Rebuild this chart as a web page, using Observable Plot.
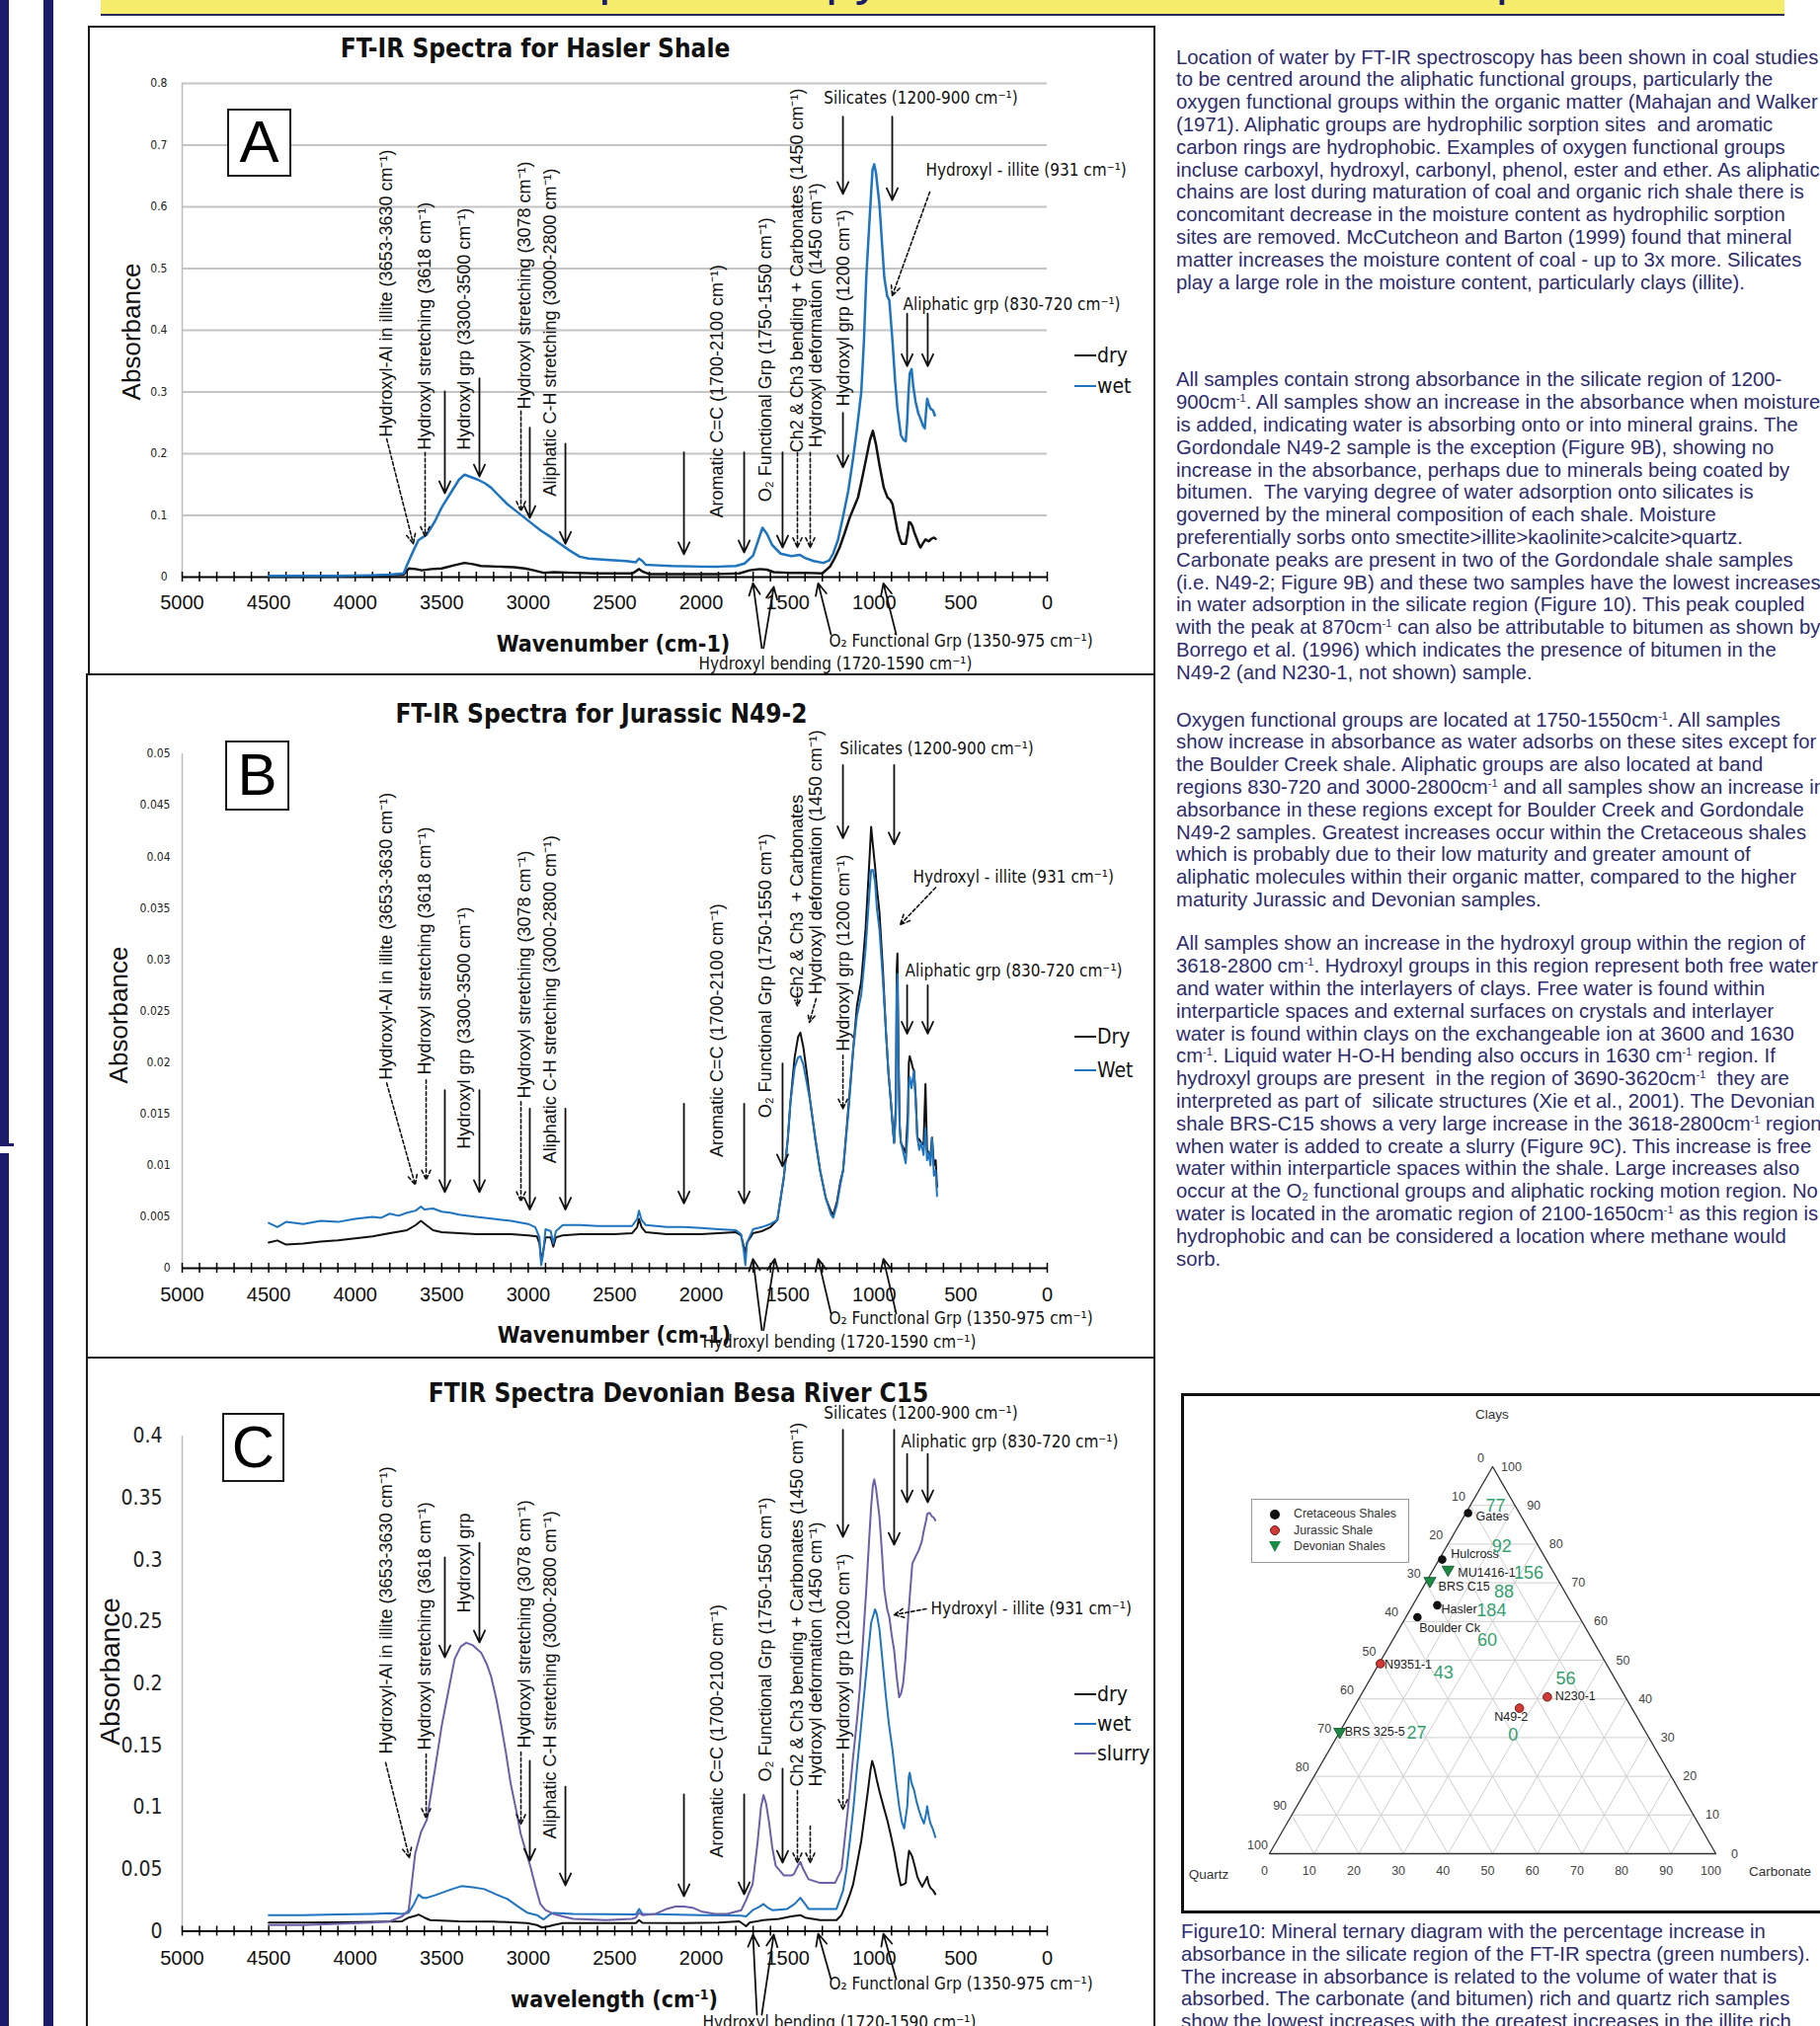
<!DOCTYPE html>
<html><head><meta charset="utf-8">
<script src="https://cdn.jsdelivr.net/npm/d3@7"></script>
<script src="https://cdn.jsdelivr.net/npm/@observablehq/plot@0.6"></script>
<style>
html,body{margin:0;padding:0;}
body{width:1843px;height:2052px;position:relative;overflow:hidden;background:#fff;font-family:"Liberation Sans",Arial,sans-serif;}
.abs{position:absolute;}
.ctr{position:absolute;white-space:nowrap;transform:translate(-50%,-50%);}
.para{position:absolute;left:1191px;white-space:pre;font-size:20.3px;line-height:22.8px;color:#2d2c6c;}
.para sup{font-size:11px;vertical-align:7px;line-height:0;}
.para sub{font-size:11px;vertical-align:-3px;line-height:0;}
.box{position:absolute;border:2.5px solid #1a1a1a;box-sizing:border-box;}
</style></head><body>
<script>
// ---------------- DATA ----------------
const haslerDry = [[4500,0.001],[4200,0.001],[3900,0.002],[3720,0.004],[3690,0.014],[3650,0.013],[3615,0.011],[3560,0.013],[3500,0.014],[3430,0.019],[3368,0.023],[3320,0.021],[3273,0.018],[3180,0.017],[3082,0.016],[3020,0.014],[2968,0.011],[2911,0.007],[2850,0.008],[2740,0.007],[2600,0.006],[2397,0.006],[2370,0.011],[2359,0.013],[2340,0.009],[2302,0.005],[2100,0.005],[1900,0.005],[1780,0.006],[1720,0.011],[1660,0.013],[1620,0.012],[1580,0.008],[1500,0.007],[1400,0.007],[1300,0.006],[1256,0.017],[1230,0.03],[1200,0.048],[1170,0.072],[1141,0.097],[1094,0.129],[1070,0.16],[1046,0.193],[1025,0.222],[1008,0.237],[990,0.215],[970,0.182],[945,0.145],[923,0.129],[907,0.125],[894,0.118],[880,0.097],[866,0.076],[850,0.06],[841,0.054],[818,0.054],[808,0.07],[799,0.089],[790,0.088],[780,0.083],[768,0.072],[757,0.064],[745,0.055],[733,0.048],[718,0.055],[704,0.061],[685,0.058],[670,0.062],[656,0.064],[645,0.062]];
const haslerWet = [[4500,0.002],[4300,0.002],[4100,0.002],[3900,0.003],[3800,0.004],[3720,0.006],[3700,0.02],[3660,0.045],[3634,0.06],[3586,0.069],[3540,0.09],[3500,0.113],[3440,0.14],[3400,0.158],[3368,0.166],[3330,0.162],[3292,0.158],[3250,0.152],[3215,0.145],[3170,0.132],[3120,0.118],[3070,0.107],[3025,0.097],[2980,0.087],[2930,0.076],[2870,0.065],[2816,0.054],[2760,0.043],[2702,0.033],[2650,0.03],[2550,0.028],[2435,0.026],[2378,0.024],[2360,0.030],[2340,0.026],[2321,0.02],[2250,0.019],[2169,0.018],[2000,0.017],[1900,0.017],[1800,0.018],[1750,0.022],[1700,0.035],[1670,0.06],[1646,0.080],[1620,0.07],[1590,0.052],[1541,0.038],[1480,0.034],[1430,0.036],[1400,0.031],[1350,0.026],[1294,0.023],[1260,0.027],[1238,0.038],[1210,0.06],[1181,0.097],[1150,0.14],[1122,0.193],[1100,0.24],[1075,0.30],[1060,0.38],[1046,0.486],[1025,0.59],[1010,0.66],[1000,0.669],[990,0.655],[970,0.604],[955,0.54],[942,0.486],[925,0.455],[913,0.449],[905,0.42],[894,0.38],[880,0.32],[866,0.273],[846,0.23],[830,0.222],[818,0.22],[810,0.25],[803,0.294],[795,0.33],[784,0.337],[775,0.31],[761,0.284],[745,0.265],[733,0.257],[718,0.245],[708,0.241],[700,0.27],[694,0.289],[685,0.28],[675,0.273],[660,0.27],[650,0.262]];

const n49Dry = [[4500,0.0025],[4450,0.0027],[4400,0.0023],[4300,0.0024],[4200,0.0026],[4100,0.0027],[4000,0.0029],[3900,0.0031],[3800,0.0034],[3700,0.0037],[3650,0.0042],[3620,0.0046],[3590,0.0042],[3550,0.0037],[3500,0.0035],[3400,0.0034],[3300,0.0033],[3200,0.0033],[3100,0.0033],[3000,0.0032],[2950,0.0031],[2935,0.0024],[2925,0.0008],[2915,0.0015],[2900,0.0030],[2870,0.0030],[2855,0.0021],[2840,0.0030],[2800,0.0032],[2700,0.0033],[2600,0.0033],[2500,0.0033],[2400,0.0034],[2370,0.0040],[2360,0.0048],[2345,0.0040],[2320,0.0035],[2200,0.0033],[2100,0.0033],[2000,0.0033],[1900,0.0034],[1800,0.0035],[1770,0.0032],[1755,0.0022],[1745,0.0015],[1735,0.0025],[1700,0.0034],[1650,0.0036],[1600,0.0040],[1560,0.0047],[1522,0.0089],[1500,0.0125],[1484,0.0162],[1460,0.0205],[1440,0.0225],[1427,0.0229],[1410,0.0215],[1390,0.0190],[1370,0.0162],[1340,0.0125],[1313,0.0095],[1280,0.0068],[1250,0.0055],[1237,0.0052],[1215,0.0065],[1195,0.0085],[1180,0.0095],[1150,0.0155],[1122,0.0212],[1100,0.0255],[1075,0.0279],[1050,0.033],[1030,0.039],[1018,0.0429],[1007,0.041],[995,0.039],[985,0.037],[970,0.0346],[950,0.029],[932,0.0229],[918,0.019],[904,0.0162],[892,0.0135],[885,0.0122],[875,0.0160],[870,0.0290],[866,0.0306],[860,0.0210],[853,0.0140],[846,0.0122],[835,0.0118],[818,0.0112],[806,0.0150],[800,0.0200],[795,0.0206],[785,0.0200],[778,0.0195],[770,0.0192],[760,0.0165],[751,0.0127],[740,0.0125],[729,0.0122],[715,0.0120],[704,0.0179],[695,0.0115],[685,0.0112],[675,0.0110],[666,0.0127],[655,0.0100],[645,0.0105],[637,0.0079]];
const n49Wet = [[4500,0.0044],[4450,0.0040],[4400,0.0045],[4300,0.0043],[4200,0.0046],[4100,0.0045],[4000,0.0048],[3900,0.0050],[3850,0.0049],[3800,0.0053],[3750,0.0051],[3700,0.0054],[3650,0.0056],[3620,0.0060],[3600,0.0057],[3550,0.0058],[3500,0.0055],[3450,0.0054],[3400,0.0052],[3300,0.0050],[3200,0.0048],[3100,0.0046],[3000,0.0043],[2960,0.0040],[2935,0.0030],[2925,0.0003],[2915,0.0012],[2900,0.0038],[2870,0.0036],[2855,0.0024],[2840,0.0036],[2800,0.0042],[2700,0.0042],[2600,0.0041],[2500,0.0041],[2400,0.0041],[2370,0.0048],[2360,0.0056],[2345,0.0047],[2320,0.0042],[2200,0.0040],[2100,0.0040],[2000,0.0039],[1900,0.0038],[1800,0.0037],[1770,0.0033],[1755,0.0018],[1745,0.0003],[1735,0.0025],[1700,0.0038],[1650,0.0040],[1600,0.0043],[1560,0.0047],[1522,0.0089],[1500,0.0125],[1484,0.0162],[1460,0.0195],[1440,0.0205],[1427,0.0206],[1410,0.0198],[1390,0.0180],[1370,0.0162],[1340,0.0125],[1313,0.0095],[1280,0.0068],[1250,0.0052],[1237,0.0049],[1215,0.0062],[1195,0.0082],[1180,0.0095],[1150,0.0150],[1122,0.0212],[1100,0.0245],[1075,0.0266],[1050,0.031],[1030,0.036],[1018,0.0387],[1007,0.0387],[995,0.0375],[985,0.035],[970,0.0329],[950,0.028],[932,0.0229],[918,0.019],[904,0.0162],[892,0.0135],[885,0.0122],[875,0.0150],[870,0.0270],[866,0.0286],[860,0.0200],[853,0.0135],[846,0.0122],[835,0.0115],[818,0.0102],[806,0.0135],[800,0.0180],[795,0.0186],[785,0.0175],[778,0.0183],[770,0.0192],[760,0.0160],[751,0.0127],[740,0.0115],[729,0.0122],[715,0.0110],[704,0.0136],[695,0.0105],[685,0.0112],[675,0.0100],[666,0.0127],[655,0.0090],[645,0.0095],[637,0.0070]];

const c15Dry = [[4500,0.007],[4300,0.007],[4100,0.0072],[3900,0.0075],[3729,0.008],[3691,0.011],[3650,0.0125],[3634,0.0135],[3600,0.011],[3567,0.009],[3400,0.008],[3200,0.0078],[3006,0.0065],[2950,0.005],[2920,0.003],[2880,0.004],[2854,0.005],[2800,0.0065],[2550,0.0065],[2378,0.0065],[2359,0.009],[2340,0.0068],[2100,0.0065],[1900,0.007],[1780,0.008],[1760,0.006],[1741,0.004],[1720,0.007],[1640,0.009],[1550,0.01],[1480,0.012],[1427,0.013],[1400,0.011],[1313,0.009],[1218,0.009],[1190,0.013],[1161,0.022],[1140,0.03],[1122,0.038],[1100,0.054],[1075,0.073],[1055,0.094],[1037,0.113],[1022,0.13],[1012,0.1375],[1000,0.132],[985,0.122],[970,0.113],[945,0.1],[923,0.089],[905,0.078],[885,0.065],[866,0.05],[847,0.037],[830,0.038],[818,0.039],[808,0.055],[799,0.065],[790,0.063],[780,0.060],[765,0.052],[751,0.044],[738,0.04],[723,0.036],[708,0.04],[694,0.044],[685,0.038],[675,0.035],[660,0.033],[647,0.030]];
const c15Wet = [[4500,0.013],[4300,0.013],[4100,0.0135],[3900,0.014],[3800,0.0145],[3729,0.014],[3691,0.015],[3660,0.022],[3634,0.0296],[3610,0.027],[3586,0.027],[3540,0.029],[3500,0.031],[3440,0.034],[3386,0.0364],[3320,0.0355],[3253,0.034],[3190,0.030],[3120,0.026],[3060,0.020],[3006,0.015],[2950,0.013],[2911,0.0095],[2880,0.013],[2854,0.0148],[2740,0.014],[2550,0.0138],[2378,0.0136],[2359,0.018],[2340,0.014],[2200,0.0135],[2000,0.013],[1850,0.0128],[1769,0.0125],[1741,0.012],[1703,0.017],[1660,0.020],[1640,0.022],[1615,0.019],[1589,0.017],[1503,0.018],[1460,0.022],[1427,0.027],[1400,0.022],[1380,0.018],[1300,0.018],[1218,0.018],[1180,0.033],[1160,0.05],[1141,0.073],[1120,0.10],[1103,0.127],[1080,0.16],[1056,0.195],[1035,0.225],[1018,0.249],[995,0.260],[985,0.256],[970,0.244],[950,0.215],[932,0.189],[915,0.167],[894,0.146],[875,0.122],[856,0.101],[840,0.088],[827,0.083],[815,0.095],[809,0.101],[800,0.125],[795,0.128],[785,0.12],[770,0.114],[756,0.105],[742,0.098],[728,0.092],[713,0.087],[700,0.095],[694,0.101],[685,0.093],[675,0.087],[660,0.082],[647,0.076]];
const c15Slurry = [[4500,0.005],[4300,0.005],[4100,0.006],[3900,0.007],[3800,0.008],[3729,0.012],[3691,0.017],[3653,0.063],[3620,0.08],[3586,0.090],[3540,0.13],[3500,0.166],[3460,0.195],[3425,0.220],[3390,0.23],[3358,0.233],[3320,0.231],[3272,0.225],[3240,0.216],[3215,0.206],[3185,0.188],[3158,0.168],[3130,0.145],[3101,0.119],[3070,0.098],[3044,0.079],[3015,0.065],[2987,0.052],[2960,0.037],[2930,0.022],[2900,0.017],[2854,0.014],[2800,0.012],[2740,0.010],[2550,0.009],[2400,0.010],[2378,0.011],[2359,0.015],[2340,0.013],[2264,0.014],[2200,0.018],[2150,0.020],[2100,0.020],[2050,0.019],[2000,0.016],[1922,0.014],[1850,0.014],[1769,0.017],[1741,0.025],[1703,0.038],[1674,0.072],[1655,0.100],[1640,0.110],[1625,0.103],[1608,0.088],[1590,0.068],[1570,0.053],[1522,0.045],[1480,0.045],[1465,0.046],[1440,0.053],[1427,0.056],[1410,0.050],[1380,0.042],[1313,0.039],[1227,0.039],[1189,0.05],[1161,0.087],[1140,0.115],[1122,0.141],[1100,0.17],[1084,0.195],[1065,0.235],[1046,0.276],[1030,0.315],[1018,0.343],[1008,0.36],[1000,0.365],[990,0.358],[970,0.335],[955,0.305],[942,0.276],[925,0.26],[913,0.254],[900,0.24],[885,0.227],[870,0.205],[856,0.189],[845,0.192],[833,0.200],[820,0.22],[809,0.243],[795,0.27],[780,0.297],[760,0.303],[742,0.308],[725,0.315],[713,0.324],[700,0.332],[694,0.337],[680,0.338],[666,0.335],[655,0.334],[647,0.332]];

// axis ticks
const xMajorTicks = [0,500,1000,1500,2000,2500,3000,3500,4000,4500,5000];
const yTicksA = [0,0.1,0.2,0.3,0.4,0.5,0.6,0.7,0.8];
const yTicksB = [0,0.005,0.01,0.015,0.02,0.025,0.03,0.035,0.04,0.045,0.05];
const yTicksC = [0,0.05,0.1,0.15,0.2,0.25,0.3,0.35,0.4];

// band annotations (wavenumber of rotated labels, shared by the three panels)
const bandLabelWave = [3818,3596,3368,3022,2871,1906,1627,1444,1336,1176];
const bandLabelsA = ["Hydroxyl-Al in illite (3653-3630 cm⁻¹)","Hydroxyl stretching (3618 cm⁻¹)","Hydroxyl grp (3300-3500 cm⁻¹)","Hydroxyl stretching (3078 cm⁻¹)","Aliphatic C-H stretching (3000-2800 cm⁻¹)","Aromatic C=C (1700-2100 cm⁻¹)","O₂ Functional Grp (1750-1550 cm⁻¹)","Ch2 & Ch3 bending + Carbonates (1450 cm⁻¹)","Hydroxyl deformation (1450 cm⁻¹)","Hydroxyl grp (1200 cm⁻¹)"];
const bandLabelsB = ["Hydroxyl-Al in illite (3653-3630 cm⁻¹)","Hydroxyl stretching (3618 cm⁻¹)","Hydroxyl grp (3300-3500 cm⁻¹)","Hydroxyl stretching (3078 cm⁻¹)","Aliphatic C-H stretching (3000-2800 cm⁻¹)","Aromatic C=C (1700-2100 cm⁻¹)","O₂ Functional Grp (1750-1550 cm⁻¹)","Ch2 & Ch3  + Carbonates","Hydroxyl deformation (1450 cm⁻¹)","Hydroxyl grp (1200 cm⁻¹)"];
const bandLabelsC = ["Hydroxyl-Al in illite (3653-3630 cm⁻¹)","Hydroxyl stretching (3618 cm⁻¹)","Hydroxyl grp","Hydroxyl stretching (3078 cm⁻¹)","Aliphatic C-H stretching (3000-2800 cm⁻¹)","Aromatic C=C (1700-2100 cm⁻¹)","O₂ Functional Grp (1750-1550 cm⁻¹)","Ch2 & Ch3 bending + Carbonates (1450 cm⁻¹)","Hydroxyl deformation (1450 cm⁻¹)","Hydroxyl grp (1200 cm⁻¹)"];
const bandLabelBaseA = [0.227,0.206,0.206,0.272,0.131,0.096,0.122,0.202,0.210,0.277];
const bandLabelBaseB = [0.0183,0.0188,0.0116,0.0165,0.0102,0.0108,0.0146,0.0262,0.0266,0.0211];
const bandLabelBaseC = [0.1432,0.1464,0.2572,0.148,0.0746,0.0594,0.1208,0.1168,0.1168,0.1464];

// arrows: [from wavenumber, from absorbance, to wavenumber, to absorbance, dashed]
const arrowsA = [[3818,0.224,3664,0.054,1],[3596,0.202,3596,0.066,1],[3482,0.301,3482,0.136,0],[3282,0.322,3282,0.163,0],[3042,0.269,3042,0.107,1],[2991,0.242,2991,0.096,0],[2785,0.216,2785,0.054,0],[2100,0.202,2100,0.037,0],[1752,0.202,1752,0.040,0],[1530,0.202,1530,0.048,0],[1444,0.202,1444,0.048,1],[1370,0.202,1370,0.048,1],[1181,0.266,1181,0.178,0],[1181,0.746,1181,0.621,0],[896,0.746,896,0.611,0],[679,0.624,896,0.456,1],[810,0.427,810,0.342,0],[691,0.427,691,0.342,0],[1650,-0.115,1701,-0.01,0],[1640,-0.115,1581,-0.016,0],[1250,-0.093,1324,-0.01,0],[873,-0.093,947,-0.01,0]];
const arrowsB = [[3818,0.0180,3653,0.0081,1],[3590,0.0183,3590,0.0086,1],[3482,0.0173,3482,0.0074,0],[3282,0.0173,3282,0.0074,0],[3042,0.0162,3042,0.0065,1],[2991,0.0155,2991,0.0057,0],[2785,0.0155,2785,0.0057,0],[2100,0.0160,2100,0.0063,0],[1752,0.0160,1752,0.0063,0],[1530,0.0199,1530,0.0099,0],[1444,0.0273,1444,0.0255,1],[1336,0.0262,1375,0.0239,1],[1181,0.0207,1181,0.0155,1],[1181,0.0489,1181,0.0418,0],[885,0.0489,885,0.0412,0],[645,0.0370,850,0.0334,1],[810,0.0275,810,0.0228,0],[691,0.0275,691,0.0228,0],[1650,-0.0060,1701,0.0009,0],[1640,-0.0060,1575,0.0009,0],[1250,-0.0044,1324,0.0009,0],[873,-0.0044,947,0.0009,0]];
const arrowsC = [[3824,0.1361,3687,0.0594,1],[3590,0.1432,3590,0.0913,1],[3482,0.3019,3482,0.2213,0],[3282,0.3138,3282,0.2333,0],[3042,0.1448,3042,0.0865,1],[2991,0.1376,2991,0.0570,0],[2785,0.1168,2785,0.0371,0],[2100,0.1105,2100,0.0283,0],[1752,0.1105,1752,0.0299,0],[1530,0.1312,1530,0.0554,0],[1444,0.1137,1444,0.0554,1],[1370,0.0849,1370,0.0554,1],[1181,0.1432,1181,0.0985,1],[1181,0.405,1181,0.3186,0],[885,0.405,885,0.3122,0],[810,0.3856,810,0.3465,0],[691,0.3856,691,0.3465,0],[700,0.2604,885,0.2556,1],[1250,-0.0387,1324,-0.0020,0],[873,-0.0387,947,-0.0020,0],[1678,-0.0674,1701,-0.0028,0],[1650,-0.0674,1581,-0.0028,0]];

// horizontal annotation labels: [text, wavenumber, absorbance, centred?]
const hLabelsA = [["Silicates (1200-900 cm⁻¹)",731,0.776,1],["Hydroxyl - illite (931 cm⁻¹)",702,0.659,0],["Aliphatic grp (830-720 cm⁻¹)",833,0.442,0],["Hydroxyl bending (1720-1590 cm⁻¹)",2015,-0.141,0],["O₂ Functional Grp (1350-975 cm⁻¹)",1261,-0.104,0]];
const hLabelsB = [["Silicates (1200-900 cm⁻¹)",639,0.0505,1],["Hydroxyl - illite (931 cm⁻¹)",776,0.0380,0],["Aliphatic grp (830-720 cm⁻¹)",822,0.0289,0],["Hydroxyl bending (1720-1590 cm⁻¹)",1992,-0.0072,0],["O₂ Functional Grp (1350-975 cm⁻¹)",1261,-0.0049,0]];
const hLabelsC = [["Silicates (1200-900 cm⁻¹)",731,0.4187,1],["Aliphatic grp (830-720 cm⁻¹)",845,0.3948,0],["Hydroxyl - illite (931 cm⁻¹)",673,0.2604,0],["Hydroxyl bending (1720-1590 cm⁻¹)",1992,-0.0738,0],["O₂ Functional Grp (1350-975 cm⁻¹)",1261,-0.0430,0]];

// ternary diagram
const ternSamples = ["Gates","Hulcross","MU1416-1","BRS C15","Hasler","Boulder Ck","N9351-1","N230-1","N49-2","BRS 325-5"];
const ternGroup = ["Cretaceous Shales","Cretaceous Shales","Devonian Shales","Devonian Shales","Cretaceous Shales","Cretaceous Shales","Jurassic Shale","Jurassic Shale","Jurassic Shale","Devonian Shales"];
const ternClay = [88,76,73.4,70.5,64.2,61.1,49.1,40.5,37.6,31.5];
const ternCarb = [0.5,0.7,3.3,0.7,5.5,2.6,0.3,42,37.2,0];
const nameClay = [87.1,77.4,72.6,69.0,63.1,58.4,48.8,40.8,35.3,31.5];
const nameCarb = [2.7,1.95,5.9,3.35,6.95,4.35,1.4,43.6,36.5,1.1];
const increasePct = [77,92,156,88,184,60,43,56,0,27];
const incClay = [89.9,79.3,72.6,67.7,62.9,55.2,46.8,45.2,30.75,31.3];
const incCarb = [5.7,12.4,21.8,18.7,18.3,21.2,15.6,43.8,39.2,17.3];
const ternTicks = [0,10,20,30,40,50,60,70,80,90,100];

// ---------------- DRAWING ----------------
const wetColor = "#1f74bf", slurryColor = "#6b5fa7";
const arial = '"Liberation Sans", Arial, sans-serif';
const narrow = '"Liberation Sans Narrow", "Arial Narrow", "DejaVu Sans Condensed", sans-serif';

function put(html, style, cls) {
  const d = document.createElement("div");
  d.className = cls || "abs";
  d.innerHTML = html;
  Object.assign(d.style, style);
  document.body.appendChild(d);
  return d;
}
function centred(html, x, y, style, rot) {
  return put(html, Object.assign({left: x + "px", top: y + "px", transform: "translate(-50%,-50%)" + (rot ? " rotate(-90deg)" : "")}, style), "ctr");
}

function spectrum(cfg) {
  const idx = d3.range(cfg.labels.length);
  const marks = [];
  if (cfg.grid) marks.push(Plot.ruleY(cfg.yTicks.filter(d => d > 0), {stroke: "#c4c4c4", strokeWidth: 2}));
  marks.push(Plot.ruleX([5000], {stroke: "#bdbdbd", strokeWidth: 1.5}));
  marks.push(Plot.axisY({ticks: cfg.yTicks, tickSize: 0, tickPadding: cfg.yPad, tickFormat: cfg.yFormat, fontSize: cfg.yFont, fontFamily: cfg.yFamily, label: null, fill: "#222"}));
  marks.push(Plot.axisX({ticks: xMajorTicks, tickSize: 0, tickPadding: cfg.xPad, tickFormat: d => String(d), fontSize: 20, fontFamily: arial, label: null, fill: "#111"}));
  marks.push(Plot.ruleY([0], {stroke: "#000", strokeWidth: 2}));
  marks.push(Plot.ruleX(d3.range(0, 5001, 100), {x: d => d, y1: 0, y2: 0, insetTop: -5, insetBottom: -5, stroke: "#000", strokeWidth: 1.5}));
  for (const s of cfg.series) {
    marks.push(Plot.line(s.data, {x: d => d[0], y: d => d[1], stroke: s.color, strokeWidth: cfg.lineWidth}));
  }
  marks.push(Plot.text(idx, {x: i => bandLabelWave[i], y: i => cfg.labelBase[i], text: i => cfg.labels[i], rotate: -90, textAnchor: "start", lineAnchor: "middle", fontSize: 18, fontFamily: arial, fill: "#111"}));
  marks.push(Plot.arrow(cfg.arrows.filter(a => !a[4]), {x1: a => a[0], y1: a => a[1], x2: a => a[2], y2: a => a[3], stroke: "#111", strokeWidth: 1.8, headLength: 11, headAngle: 50}));
  marks.push(Plot.arrow(cfg.arrows.filter(a => a[4]), {x1: a => a[0], y1: a => a[1], x2: a => a[2], y2: a => a[3], stroke: "#111", strokeWidth: 1.6, headLength: 10, headAngle: 50, strokeDasharray: "3.5,2.5"}));
  marks.push(Plot.text(cfg.hLabels.filter(h => h[3]), {x: h => h[1], y: h => h[2], text: h => h[0], textAnchor: "middle", lineAnchor: "middle", fontSize: 17, fontFamily: narrow, fill: "#111"}));
  marks.push(Plot.text(cfg.hLabels.filter(h => !h[3]), {x: h => h[1], y: h => h[2], text: h => h[0], textAnchor: "start", lineAnchor: "middle", fontSize: 17, fontFamily: narrow, fill: "#111"}));
  const svg = Plot.plot({
    width: cfg.width, height: cfg.height,
    marginLeft: cfg.m[0], marginRight: cfg.m[1], marginTop: cfg.m[2], marginBottom: cfg.m[3],
    x: {domain: [5000, 0], axis: null},
    y: {domain: cfg.yDomain, axis: null},
    style: {fontFamily: arial, background: "transparent", overflow: "visible", color: "#111"},
    marks
  });
  const wrap = put("", {left: cfg.left + "px", top: cfg.top + "px", width: cfg.width + "px", height: cfg.height + "px"});
  wrap.appendChild(svg);
}

// page frame
put("", {left: "0px", top: "0px", width: "9px", height: "1158px", background: "#1c1c6a"});
put("", {left: "0px", top: "1168px", width: "9px", height: "900px", background: "#1c1c6a"});
put("", {left: "0px", top: "1158px", width: "14px", height: "3px", background: "#1c1c6a"});
put("", {left: "44px", top: "0px", width: "10px", height: "2052px", background: "#1c1c6a"});
const bar = put("", {left: "102px", top: "0px", width: "1705px", height: "14px", background: "#f6ec6c", borderBottom: "2.5px solid #2a2a5a", overflow: "hidden"});
const titleTxt = document.createElement("div");
Object.assign(titleTxt.style, {position: "absolute", left: "322px", top: "-51px", fontSize: "53px", lineHeight: "53px", whiteSpace: "nowrap", color: "#1c1c6a"});
titleTxt.textContent = "FT-IR Spectroscopy – Location of Water Adsorption";
bar.appendChild(titleTxt);

// panel boxes
put("", {left: "89px", top: "26px", width: "1081px", height: "658px"}, "box");
put("", {left: "87px", top: "682px", width: "1083px", height: "694px"}, "box");
put("", {left: "87px", top: "1374px", width: "1083px", height: "720px"}, "box");

spectrum({left: 89, top: 26, width: 1080, height: 656, m: [95, 109, 58, 98], yDomain: [0, 0.8], yTicks: yTicksA,
  yFormat: d => d === 0 ? "0" : d.toFixed(1), yPad: 15, yFont: 12, yFamily: narrow, xPad: 18, grid: true, lineWidth: 2.5,
  series: [{data: haslerDry, color: "#111"}, {data: haslerWet, color: wetColor}],
  labels: bandLabelsA, labelBase: bandLabelBaseA, arrows: arrowsA, hLabels: hLabelsA});
spectrum({left: 86, top: 682, width: 1083, height: 692, m: [98, 109, 81, 90], yDomain: [0, 0.05], yTicks: yTicksB,
  yFormat: d => d === 0 ? "0" : String(+d.toFixed(3)), yPad: 12, yFont: 12, yFamily: narrow, xPad: 19, grid: false, lineWidth: 2,
  series: [{data: n49Dry, color: "#111"}, {data: n49Wet, color: wetColor}],
  labels: bandLabelsB, labelBase: bandLabelBaseB, arrows: arrowsB, hLabels: hLabelsB});
spectrum({left: 86, top: 1374, width: 1083, height: 678, m: [98, 109, 80, 96.5], yDomain: [0, 0.4], yTicks: yTicksC,
  yFormat: d => d === 0 ? "0" : String(+d.toFixed(2)), yPad: 20, yFont: 21, yFamily: narrow, xPad: 20, grid: false, lineWidth: 2,
  series: [{data: c15Dry, color: "#111"}, {data: c15Wet, color: wetColor}, {data: c15Slurry, color: slurryColor}],
  labels: bandLabelsC, labelBase: bandLabelBaseC, arrows: arrowsC, hLabels: hLabelsC});

// titles, axis titles, letters, legends
const tStyle = {fontFamily: narrow, fontWeight: "bold", fontSize: "26px", color: "#111"};
const xStyle = {fontFamily: narrow, fontWeight: "bold", fontSize: "23px", color: "#111"};
centred("FT-IR Spectra for Hasler Shale", 542, 49, tStyle);
centred("FT-IR Spectra for Jurassic N49-2", 609, 723, tStyle);
centred("FTIR Spectra Devonian Besa River C15", 687, 1411, tStyle);
centred("Wavenumber (cm-1)", 621, 652, xStyle);
centred("Wavenumber (cm-1)", 622, 1352, xStyle);
centred('wavelength (cm<sup style="font-size:14px">-1</sup>)', 622, 2025, xStyle);
centred("Absorbance", 133, 336, {fontSize: "26px", color: "#111"}, true);
centred("Absorbance", 120, 1028, {fontSize: "26px", color: "#111"}, true);
centred("Absorbance", 112, 1693, {fontSize: "28px", color: "#111"}, true);
const letterStyle = (l, t, w, h) => ({left: l + "px", top: t + "px", width: w + "px", height: h + "px", fontSize: "60px", lineHeight: (h - 5) + "px", textAlign: "center", background: "#fff"});
put("A", letterStyle(230, 110, 65, 69), "box");
put("B", letterStyle(228, 750, 65, 71), "box");
put("C", letterStyle(225, 1431, 63, 70), "box");
function legendItem(label, color, y) {
  put("", {left: "1088px", top: (y - 1) + "px", width: "22px", height: "0px", borderTop: "2.5px solid " + color});
  put(label, {left: "1111px", top: (y - 13) + "px", fontFamily: narrow, fontSize: "21px", lineHeight: "26px", color: "#111"});
}
legendItem("dry", "#111", 360); legendItem("wet", wetColor, 391);
legendItem("Dry", "#111", 1050); legendItem("Wet", wetColor, 1084);
legendItem("dry", "#111", 1716); legendItem("wet", wetColor, 1746); legendItem("slurry", slurryColor, 1776);

// ternary
const S3 = Math.sqrt(3) / 2;
const tx = (clay, carb) => carb + clay / 2;
const ty = (clay) => clay * S3;
const inner = ternTicks.slice(1, -1);
const grid = inner.flatMap(v => [
  {x1: tx(v, 0), y1: ty(v), x2: tx(v, 100 - v), y2: ty(v)},
  {x1: tx(0, v), y1: ty(0), x2: tx(100 - v, v), y2: ty(100 - v)},
  {x1: tx(0, 100 - v), y1: ty(0), x2: tx(100 - v, 0), y2: ty(100 - v)}
]);
const corners = [[0, 0], [100, 0], [0, 100], [0, 0]].map(([clay, carb]) => ({x: tx(clay, carb), y: ty(clay)}));
const ti = d3.range(ternSamples.length);
const ternPlot = Plot.plot({
  width: 680, height: 522, marginLeft: 88, marginRight: 140, marginTop: 73, marginBottom: 57,
  x: {domain: [0, 100], axis: null}, y: {domain: [0, 100 * S3], axis: null},
  style: {fontFamily: arial, background: "transparent", overflow: "visible"},
  marks: [
    Plot.link(grid, {x1: "x1", y1: "y1", x2: "x2", y2: "y2", stroke: "#cfcfcf", strokeWidth: 1}),
    Plot.line(corners, {x: "x", y: "y", stroke: "#333", strokeWidth: 1.3}),
    Plot.text(ternTicks, {x: v => tx(0, v), y: 0, text: v => String(v), dx: -5, dy: 17, fontSize: 12.5, fill: "#444"}),
    Plot.text(ternTicks, {x: v => tx(100 - v, 0), y: v => ty(100 - v), text: v => String(v), dx: -12, dy: -9, fontSize: 12.5, fill: "#444"}),
    Plot.text(ternTicks, {x: v => tx(v, 100 - v), y: v => ty(v), text: v => String(v), dx: 19, fontSize: 12.5, fill: "#444"}),
    Plot.dot(ti.filter(i => ternGroup[i] === "Cretaceous Shales"), {x: i => tx(ternClay[i], ternCarb[i]), y: i => ty(ternClay[i]), r: 4.3, fill: "#111"}),
    Plot.dot(ti.filter(i => ternGroup[i] === "Jurassic Shale"), {x: i => tx(ternClay[i], ternCarb[i]), y: i => ty(ternClay[i]), r: 4.3, fill: "#d33a35", stroke: "#6a1a18", strokeWidth: 1}),
    Plot.dot(ti.filter(i => ternGroup[i] === "Devonian Shales"), {x: i => tx(ternClay[i], ternCarb[i]), y: i => ty(ternClay[i]), symbol: "triangle", rotate: 180, r: 4.5, fill: "#1c8a45", stroke: "#0d4a22", strokeWidth: 0.8}),
    Plot.text(ti.filter(i => ternSamples[i] !== "N49-2"), {x: i => tx(nameClay[i], nameCarb[i]), y: i => ty(nameClay[i]), text: i => ternSamples[i], textAnchor: "start", fontSize: 12.5, fill: "#222"}),
    Plot.text(ti.filter(i => ternSamples[i] === "N49-2"), {x: i => tx(nameClay[i], nameCarb[i]), y: i => ty(nameClay[i]), text: i => ternSamples[i], textAnchor: "middle", fontSize: 12.5, fill: "#222"}),
    Plot.text(ti, {x: i => tx(incClay[i], incCarb[i]), y: i => ty(incClay[i]), text: i => String(increasePct[i]), fontSize: 18, fill: "#35a06e"})
  ]
});
put("", {left: "1196px", top: "1411px", width: "720px", height: "527px", border: "3px solid #111", boxSizing: "border-box"});
const tw = put("", {left: "1197px", top: "1412px", width: "680px", height: "522px"});
tw.appendChild(ternPlot);
centred("Clays", 1511, 1432, {fontSize: "13.5px", color: "#333"});
centred("Quartz", 1224, 1898, {fontSize: "13.5px", color: "#333"});
put("Carbonate", {left: "1771px", top: "1888px", fontSize: "13.5px", color: "#333", whiteSpace: "nowrap"});
put(`<div style="position:absolute;left:0;top:0;width:160px;height:65px;border:1.5px solid #999;box-sizing:border-box"></div>
<div style="position:absolute;left:19px;top:11px;width:10px;height:10px;border-radius:50%;background:#111"></div>
<div style="position:absolute;left:19px;top:27px;width:10px;height:10px;border-radius:50%;background:#d33a35;box-sizing:border-box;border:1px solid #6a1a18"></div>
<div style="position:absolute;left:18px;top:43px;width:0;height:0;border-left:6px solid transparent;border-right:6px solid transparent;border-top:11px solid #1c8a45"></div>
<div style="position:absolute;left:43px;top:7px;font-size:12.3px;line-height:16.5px;color:#333;white-space:nowrap">Cretaceous Shales<br>Jurassic Shale<br>Devonian Shales</div>`,
  {left: "1267px", top: "1518px", width: "160px", height: "65px"});
</script>

<div class="para" style="top:46.6px">Location of water by FT-IR spectroscopy has been shown in coal studies
to be centred around the aliphatic functional groups, particularly the
oxygen functional groups within the organic matter (Mahajan and Walker
(1971). Aliphatic groups are hydrophilic sorption sites  and aromatic
carbon rings are hydrophobic. Examples of oxygen functional groups
incluse carboxyl, hydroxyl, carbonyl, phenol, ester and ether. As aliphatic
chains are lost during maturation of coal and organic rich shale there is
concomitant decrease in the moisture content as hydrophilic sorption
sites are removed. McCutcheon and Barton (1999) found that mineral
matter increases the moisture content of coal - up to 3x more. Silicates
play a large role in the moisture content, particularly clays (illite).</div>

<div class="para" style="top:373.4px">All samples contain strong absorbance in the silicate region of 1200-
900cm<sup>-1</sup>. All samples show an increase in the absorbance when moisture
is added, indicating water is absorbing onto or into mineral grains. The
Gordondale N49-2 sample is the exception (Figure 9B), showing no
increase in the absorbance, perhaps due to minerals being coated by
bitumen.  The varying degree of water adsorption onto silicates is
governed by the mineral composition of each shale. Moisture
preferentially sorbs onto smectite&gt;illite&gt;kaolinite&gt;calcite&gt;quartz.
Carbonate peaks are present in two of the Gordondale shale samples
(i.e. N49-2; Figure 9B) and these two samples have the lowest increases
in water adsorption in the silicate region (Figure 10). This peak coupled
with the peak at 870cm<sup>-1</sup> can also be attributable to bitumen as shown by
Borrego et al. (1996) which indicates the presence of bitumen in the
N49-2 (and N230-1, not shown) sample.</div>

<div class="para" style="top:717.6px">Oxygen functional groups are located at 1750-1550cm<sup>-1</sup>. All samples
show increase in absorbance as water adsorbs on these sites except for
the Boulder Creek shale. Aliphatic groups are also located at band
regions 830-720 and 3000-2800cm<sup>-1</sup> and all samples show an increase in
absorbance in these regions except for Boulder Creek and Gordondale
N49-2 samples. Greatest increases occur within the Cretaceous shales
which is probably due to their low maturity and greater amount of
aliphatic molecules within their organic matter, compared to the higher
maturity Jurassic and Devonian samples.</div>

<div class="para" style="top:944.4px">All samples show an increase in the hydroxyl group within the region of
3618-2800 cm<sup>-1</sup>. Hydroxyl groups in this region represent both free water
and water within the interlayers of clays. Free water is found within
interparticle spaces and external surfaces on crystals and interlayer
water is found within clays on the exchangeable ion at 3600 and 1630
cm<sup>-1</sup>. Liquid water H-O-H bending also occurs in 1630 cm<sup>-1</sup> region. If
hydroxyl groups are present  in the region of 3690-3620cm<sup>-1</sup>  they are
interpreted as part of  silicate structures (Xie et al., 2001). The Devonian
shale BRS-C15 shows a very large increase in the 3618-2800cm<sup>-1</sup> region
when water is added to create a slurry (Figure 9C). This increase is free
water within interparticle spaces within the shale. Large increases also
occur at the O<sub>2</sub> functional groups and aliphatic rocking motion region. No
water is located in the aromatic region of 2100-1650cm<sup>-1</sup> as this region is
hydrophobic and can be considered a location where methane would
sorb.</div>

<div class="para" style="top:1945px;left:1196px">Figure10: Mineral ternary diagram with the percentage increase in
absorbance in the silicate region of the FT-IR spectra (green numbers).
The increase in absorbance is related to the volume of water that is
absorbed. The carbonate (and bitumen) rich and quartz rich samples
show the lowest increases with the greatest increases in the illite rich</div>
</body></html>
